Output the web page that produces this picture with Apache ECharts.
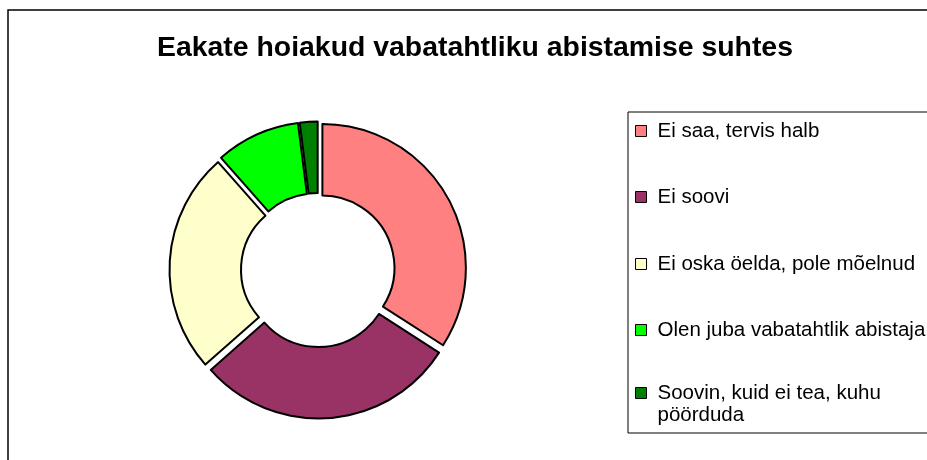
<!DOCTYPE html>
<html>
<head>
<meta charset="utf-8">
<script src="https://cdn.jsdelivr.net/npm/echarts@6/dist/echarts.min.js"></script>
<style>
  html, body { margin: 0; padding: 0; background: #fff; }
  #chart { width: 927px; height: 460px; }
</style>
</head>
<body>
<div id="chart"></div>
<script>
const categories = [
  'Ei saa, tervis halb',
  'Ei soovi',
  'Ei oska öelda, pole mõelnud',
  'Olen juba vabatahtlik abistaja',
  'Soovin, kuid ei tea, kuhu pöörduda'
];
const shares = [34.1, 29.4, 25.0, 9.5, 2.0];
const colors = ['#ff8080', '#993366', '#ffffcc', '#00ff00', '#008000'];
const titleText = 'Eakate hoiakud vabatahtliku abistamise suhtes';

const font = '"Liberation Sans", Arial, sans-serif';
// centre of each legend row (icon middle)
const rowMids = [131, 197, 264, 330, 393];

var myChart = echarts.init(document.getElementById('chart'));

// one legend per row so every row sits where it is in the picture
const legends = categories.map((name, i) => {
  const last = i === categories.length - 1;
  return {
    data: [name],
    left: 635,
    top: last ? rowMids[i] - 33 : rowMids[i] - 11,
    padding: 0,
    icon: 'rect',
    itemWidth: 11,
    itemHeight: 11,
    selectedMode: false,
    itemStyle: { borderColor: '#000', borderWidth: 1 },
    // leading blank line keeps the first text line level with the icon
    formatter: last ? () => '\nSoovin, kuid ei tea, kuhu\npöörduda' : undefined,
    textStyle: {
      fontFamily: font,
      fontSize: 20.5,
      lineHeight: 22,
      color: '#000',
      padding: [0, 0, 0, 6]
    }
  };
});

var option = {
  animation: false,
  backgroundColor: '#fff',
  title: {
    text: titleText,
    left: 475,
    top: 34,
    padding: 0,
    textAlign: 'center',
    textStyle: { fontFamily: font, fontSize: 28.4, fontWeight: 'bold', color: '#000' }
  },
  legend: legends,
  graphic: [
    {
      type: 'rect',
      shape: { x: 8, y: 10, width: 1000, height: 1000 },
      style: { fill: null, stroke: '#000', lineWidth: 1.5 },
      silent: true
    },
    {
      type: 'rect',
      shape: { x: 628, y: 112, width: 400, height: 321 },
      style: { fill: null, stroke: '#000', lineWidth: 1 },
      silent: true
    }
  ],
  series: [
    {
      type: 'pie',
      center: [318, 270],
      radius: [72, 143.5],
      startAngle: 90,
      clockwise: true,
      selectedMode: 'multiple',
      selectedOffset: 5,
      label: { show: false },
      labelLine: { show: false },
      emphasis: { disabled: true },
      itemStyle: { borderColor: '#000', borderWidth: 2 },
      select: { itemStyle: { borderColor: '#000', borderWidth: 2 } },
      data: categories.map((name, i) => ({
        name: name,
        value: shares[i],
        selected: true,
        itemStyle: { color: colors[i] },
        select: { itemStyle: { color: colors[i] } }
      }))
    }
  ]
};

myChart.setOption(option);
</script>
</body>
</html>
